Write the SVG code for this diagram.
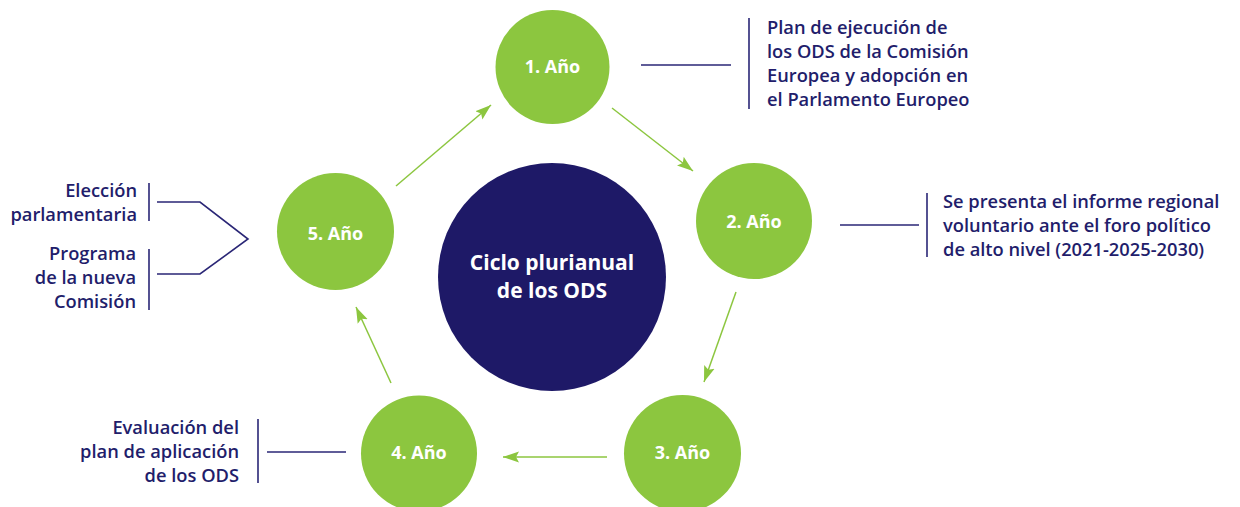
<svg xmlns="http://www.w3.org/2000/svg" width="1240" height="507" viewBox="0 0 1240 507">
<style>
.year{fill:#8cc63f}
.yt{font-family:"Open Sans","Noto Sans",sans-serif;font-weight:700;font-size:18px;fill:#ffffff;text-anchor:middle}
.ct{font-family:"Open Sans","Noto Sans",sans-serif;font-weight:700;font-size:21px;fill:#ffffff;text-anchor:middle}
.lb{font-family:"Open Sans","Noto Sans",sans-serif;font-weight:600;font-size:18.3px;fill:#221d6b}
.end{text-anchor:end}
.arr{stroke:#8cc63f;stroke-width:1.5;fill:none;marker-end:url(#ah)}
.ln{stroke:#2a2676;stroke-width:1.6;fill:none}
</style>
<defs>
<marker id="ah" markerUnits="userSpaceOnUse" markerWidth="18" markerHeight="12" refX="16" refY="6" orient="auto">
<path d="M0,0.5 L16,6 L0,11.5 L3,6 z" fill="#8cc63f"/>
</marker>
</defs>
<rect width="1240" height="507" fill="#ffffff"/>
<g id="connectors">
<line class="arr" x1="396" y1="186" x2="491" y2="105"/>
<line class="arr" x1="612" y1="108" x2="693" y2="171"/>
<line class="arr" x1="736" y1="292" x2="704" y2="382"/>
<line class="arr" x1="607" y1="457" x2="503" y2="457"/>
<line class="arr" x1="391" y1="383" x2="356" y2="307"/>
<line class="ln" x1="641" y1="65" x2="731" y2="65"/>
<line class="ln" x1="749" y1="18" x2="749" y2="109"/>
<line class="ln" x1="840" y1="225" x2="919" y2="225"/>
<line class="ln" x1="927" y1="193" x2="927" y2="257"/>
<line class="ln" x1="267" y1="452" x2="346" y2="452"/>
<line class="ln" x1="258" y1="419" x2="258" y2="483"/>
<line class="ln" x1="149" y1="183" x2="149" y2="221"/>
<line class="ln" x1="149" y1="249" x2="149" y2="310"/>
<polyline class="ln" points="157,202 200,202 248,239 200,274 157,274"/>
</g>
<g id="center">
<circle cx="552" cy="277" r="114" fill="#1e1967"/>
<text class="ct" x="552" y="270">Ciclo plurianual</text>
<text class="ct" x="552" y="298">de los ODS</text>
</g>
<g id="year1">
<circle class="year" cx="552.5" cy="67" r="57"/>
<text class="yt" x="552.5" y="73">1. Año</text>
</g>
<g id="year2">
<circle class="year" cx="754" cy="221" r="58"/>
<text class="yt" x="754" y="228">2. Año</text>
</g>
<g id="year3">
<circle class="year" cx="682.5" cy="453.5" r="58.5"/>
<text class="yt" x="682.5" y="459">3. Año</text>
</g>
<g id="year4">
<circle class="year" cx="419" cy="453.5" r="58"/>
<text class="yt" x="419" y="459">4. Año</text>
</g>
<g id="year5">
<circle class="year" cx="335.5" cy="231.5" r="58.5"/>
<text class="yt" x="335.5" y="240">5. Año</text>
</g>
<g id="label1">
<text class="lb" x="767" y="34">Plan de ejecución de</text>
<text class="lb" x="767" y="58">los ODS de la Comisión</text>
<text class="lb" x="767" y="82">Europea y adopción en</text>
<text class="lb" x="767" y="106">el Parlamento Europeo</text>
</g>
<g id="label2">
<text class="lb" x="943" y="208">Se presenta el informe regional</text>
<text class="lb" x="943" y="232">voluntario ante el foro político</text>
<text class="lb" x="943" y="256">de alto nivel (2021-2025-2030)</text>
</g>
<g id="label4">
<text class="lb end" x="239" y="434">Evaluación del</text>
<text class="lb end" x="239" y="458">plan de aplicación</text>
<text class="lb end" x="239" y="482">de los ODS</text>
</g>
<g id="label5">
<text class="lb end" x="137" y="197">Elección</text>
<text class="lb end" x="137" y="221">parlamentaria</text>
<text class="lb end" x="136" y="260">Programa</text>
<text class="lb end" x="136" y="284">de la nueva</text>
<text class="lb end" x="136" y="308">Comisión</text>
</g>
</svg>
